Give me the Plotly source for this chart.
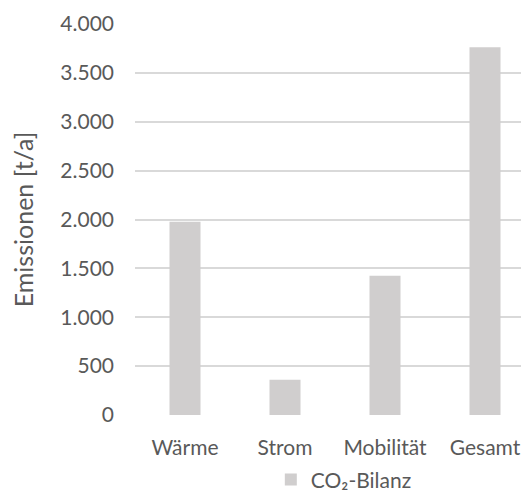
import plotly.graph_objects as go

categories = ["Wärme", "Strom", "Mobilität", "Gesamt"]
values = [1977, 361, 1425, 3763]
series_name = "CO₂-Bilanz"
y_tickvals = [0, 500, 1000, 1500, 2000, 2500, 3000, 3500, 4000]

FONT = "Lato"
TXT = "#595959"
FS = 21

fig = go.Figure()
fig.add_trace(go.Bar(
    x=categories, y=values, name=series_name,
    marker=dict(color="#d0cece", line=dict(width=0)),
    showlegend=True,
))

fig.update_layout(
    width=521, height=487,
    margin=dict(l=127, r=0, t=16, b=80, autoexpand=False),
    paper_bgcolor="white", plot_bgcolor="white",
    separators=",.",
    bargap=0.69,
    font=dict(family=FONT, size=FS, color=TXT),
    showlegend=True,
    legend=dict(
        orientation="h", x=0.53, xanchor="center",
        y=-0.166, yanchor="middle",
        font=dict(family=FONT, size=FS, color=TXT),
        itemwidth=30,
    ),
    xaxis=dict(
        range=[-0.5, 3.44], showgrid=False, zeroline=False, showline=False,
        ticks="", ticklabelstandoff=18, automargin=False,
        tickfont=dict(family=FONT, size=FS, color=TXT),
    ),
    yaxis=dict(
        range=[0, 4000], tickvals=y_tickvals, tickformat=",d",
        showgrid=True, gridcolor="#d9d9d9", gridwidth=1.5,
        zeroline=False, showline=False, ticks="", ticklabelstandoff=20,
        automargin=False,
        tickfont=dict(family=FONT, size=FS, color=TXT),
        title=dict(text="Emissionen [t/a]", standoff=21,
                   font=dict(family=FONT, size=25, color=TXT)),
    ),
)

fig.write_html("out.html")
